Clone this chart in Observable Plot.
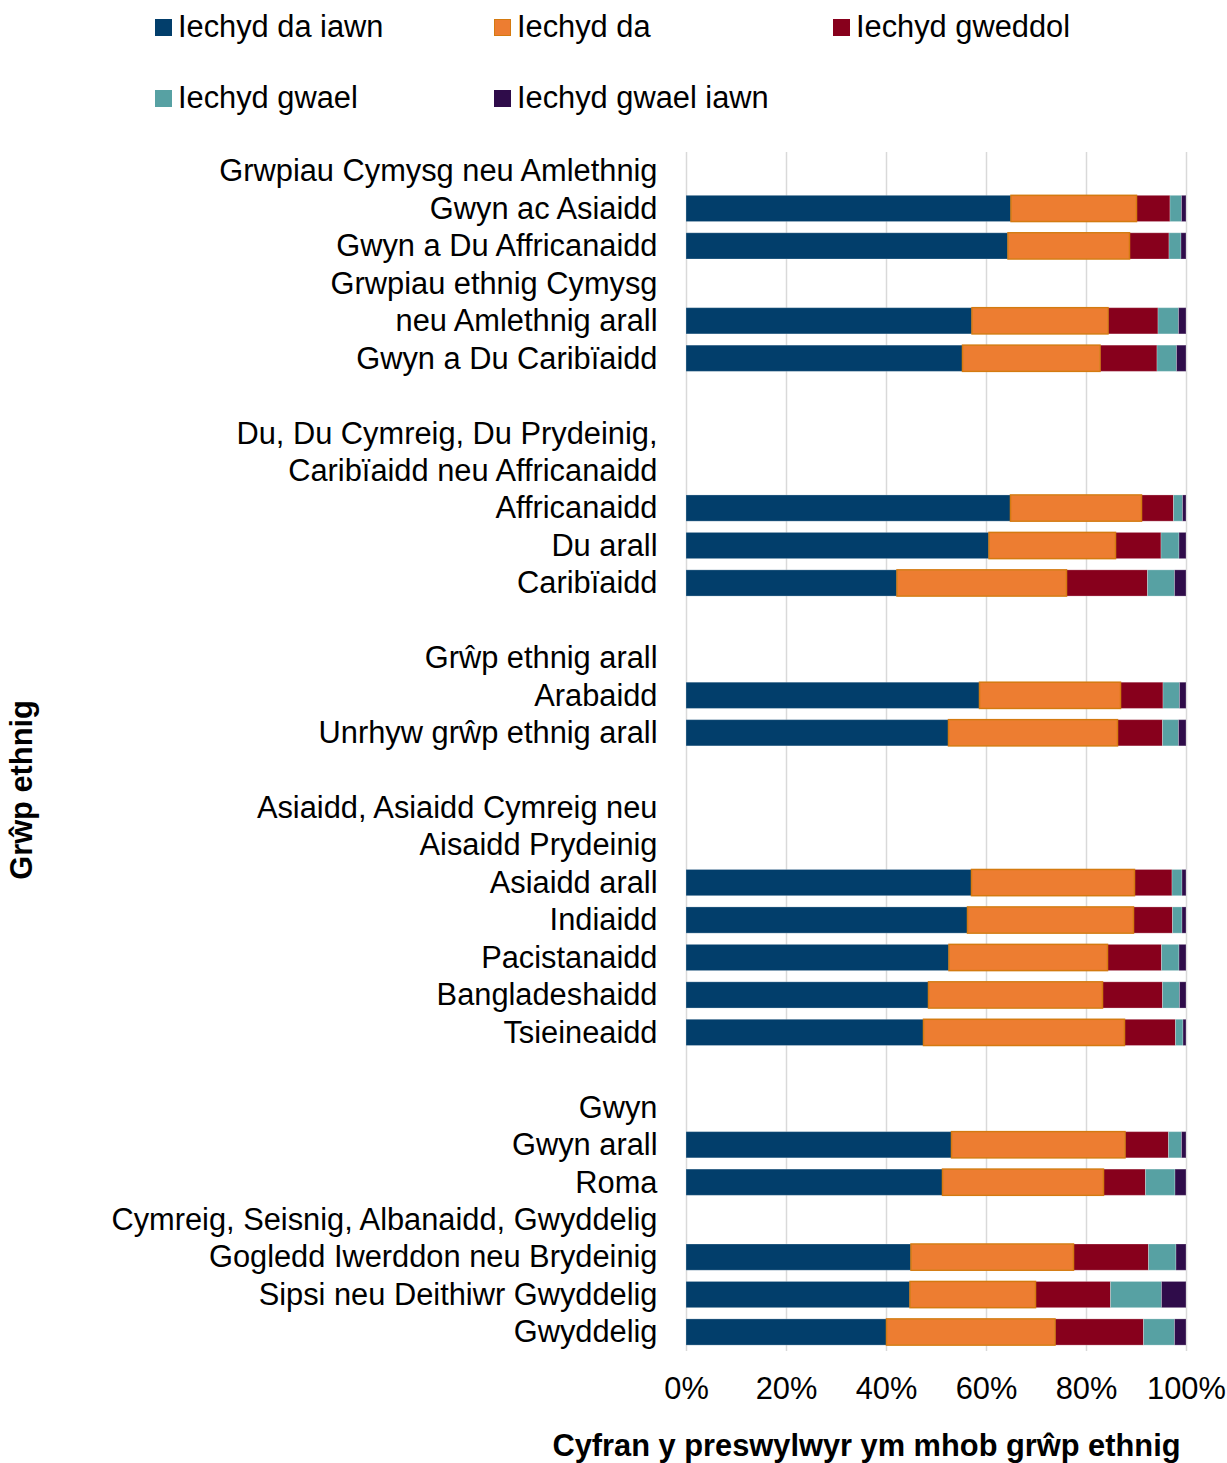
<!DOCTYPE html>
<html>
<head>
<meta charset="utf-8">
<script src="https://cdn.jsdelivr.net/npm/d3@7"></script>
<script src="https://cdn.jsdelivr.net/npm/@observablehq/plot@0.6"></script>
<style>
  html, body { margin: 0; padding: 0; background: #fff; }
  body { font-family: "Liberation Sans", Arial, sans-serif; color: #000; }
  #wrap { width: 1227px; }
  #legend {
    box-sizing: border-box; height: 135px; padding-left: 155px;
    display: grid; grid-template-columns: repeat(3, 339px);
    grid-auto-rows: 54px; row-gap: 17px; align-items: center;
  }
  .item { display: flex; align-items: center; font-size: 30.8px; white-space: nowrap; }
  .sw { width: 17px; height: 17px; margin-right: 6px; box-sizing: border-box; flex: none; }
</style>
</head>
<body>
<div id="wrap">
  <div id="legend"></div>
  <div id="chart"></div>
</div>
<script>
// y-axis text lines (one per row slot; whitespace strings are empty spacer rows)
const yLines = [
  "Grwpiau Cymysg neu Amlethnig",
  "Gwyn ac Asiaidd",
  "Gwyn a Du Affricanaidd",
  "Grwpiau ethnig Cymysg",
  "neu Amlethnig arall",
  "Gwyn a Du Caribïaidd",
  " ",
  "Du, Du Cymreig, Du Prydeinig,",
  "Caribïaidd neu Affricanaidd",
  "Affricanaidd",
  "Du arall",
  "Caribïaidd",
  "  ",
  "Grŵp ethnig arall",
  "Arabaidd",
  "Unrhyw grŵp ethnig arall",
  "   ",
  "Asiaidd, Asiaidd Cymreig neu",
  "Aisaidd Prydeinig",
  "Asiaidd arall",
  "Indiaidd",
  "Pacistanaidd",
  "Bangladeshaidd",
  "Tsieineaidd",
  "    ",
  "Gwyn",
  "Gwyn arall",
  "Roma",
  "Cymreig, Seisnig, Albanaidd, Gwyddelig",
  "Gogledd Iwerddon neu Brydeinig",
  "Sipsi neu Deithiwr Gwyddelig",
  "Gwyddelig"
];

// rows that carry a bar (label line on which the bar sits)
const groups = [
  "Gwyn ac Asiaidd",
  "Gwyn a Du Affricanaidd",
  "neu Amlethnig arall",
  "Gwyn a Du Caribïaidd",
  "Affricanaidd",
  "Du arall",
  "Caribïaidd",
  "Arabaidd",
  "Unrhyw grŵp ethnig arall",
  "Asiaidd arall",
  "Indiaidd",
  "Pacistanaidd",
  "Bangladeshaidd",
  "Tsieineaidd",
  "Gwyn arall",
  "Roma",
  "Gogledd Iwerddon neu Brydeinig",
  "Sipsi neu Deithiwr Gwyddelig",
  "Gwyddelig"
];

const series = ["Iechyd da iawn", "Iechyd da", "Iechyd gweddol", "Iechyd gwael", "Iechyd gwael iawn"];
const colors = ["#023e6b", "#ed7d31", "#87001c", "#57a1a3", "#2f0c4a"];

// percentages per group, in the order of `groups`
const daIawn    = [65.0, 64.4, 57.2, 55.3, 64.9, 60.6, 42.2, 58.7, 52.5, 57.1, 56.3, 52.6, 48.5, 47.5, 53.1, 51.3, 45.0, 44.8, 40.1];
const da        = [25.1, 24.3, 27.2, 27.5, 26.2, 25.3, 33.9, 28.2, 33.8, 32.6, 33.2, 31.7, 34.8, 40.2, 34.7, 32.2, 32.5, 25.1, 33.7];
const gweddol   = [ 6.7,  7.9, 10.0, 11.4,  6.4,  9.1, 16.2,  8.5,  9.0,  7.5,  7.8, 10.8, 12.0, 10.2,  8.7,  8.4, 15.0, 15.0, 17.7];
const gwael     = [ 2.3,  2.4,  4.1,  3.9,  1.8,  3.6,  5.4,  3.3,  3.2,  2.0,  1.9,  3.5,  3.4,  1.5,  2.6,  5.9,  5.5, 10.2,  6.2];
const gwaelIawn = [ 0.9,  1.0,  1.5,  1.9,  0.7,  1.4,  2.3,  1.3,  1.5,  0.8,  0.8,  1.4,  1.3,  0.6,  0.9,  2.2,  2.0,  4.9,  2.3];

const tickValues = [0, 0.2, 0.4, 0.6, 0.8, 1];

const seriesValues = [daIawn, da, gweddol, gwael, gwaelIawn];
const data = [];
groups.forEach((g, i) => {
  series.forEach((s, j) => data.push({group: g, series: s, value: seriesValues[j][i]}));
});

// legend
const legend = document.getElementById("legend");
series.forEach((s, j) => {
  const it = document.createElement("div");
  it.className = "item";
  const sw = document.createElement("span");
  sw.className = "sw";
  sw.style.background = colors[j];
  if (j === 1) sw.style.border = "1px solid #d47a10";
  it.appendChild(sw);
  it.appendChild(document.createTextNode(s));
  legend.appendChild(it);
});

const FS = 30.8;
const font = "Liberation Sans, Arial, sans-serif";

const stackOpts = {x: "value", y: "group", z: "series", order: series, offset: "normalize"};

const chart = Plot.plot({
  width: 1227,
  height: 1328,
  marginLeft: 686,
  marginRight: 41,
  marginTop: 17,
  marginBottom: 112,
  style: {fontFamily: font, fontSize: FS + "px", color: "#000", background: "#fff", overflow: "visible"},
  x: {domain: [0, 1], axis: null},
  y: {domain: yLines, paddingInner: 0.3, paddingOuter: 0.157, round: false, axis: null},
  color: {domain: series, range: colors},
  marks: [
    Plot.gridX(tickValues, {stroke: "#d9d9d9", strokeOpacity: 1, strokeWidth: 1.5}),
    Plot.barX(data, Plot.stackX({...stackOpts, fill: "series", stroke: "#ffffff", strokeOpacity: 0.25, strokeWidth: 1})),
    Plot.barX(data, Plot.stackX({...stackOpts, fill: "none", stroke: "#d47a10", strokeWidth: 1.5,
      strokeOpacity: d => d.series === "Iechyd da" ? 1 : 0})),
    Plot.axisX({ticks: tickValues, tickSize: 0, tickPadding: 26, fontSize: FS, tickFormat: d => Math.round(d * 100) + "%", label: null}),
    Plot.axisY({tickSize: 0, tickPadding: 29, fontSize: FS, label: null}),
    Plot.text(["Cyfran y preswylwyr ym mhob grŵp ethnig"], {frameAnchor: "bottom-right", textAnchor: "end", lineAnchor: "middle", dx: -6, dy: 95, fontWeight: "bold", fontSize: FS}),
    Plot.text(["Grŵp ethnig"], {frameAnchor: "left", textAnchor: "middle", lineAnchor: "middle", rotate: -90, dx: -664, dy: 38, fontWeight: "bold", fontSize: FS})
  ]
});
document.getElementById("chart").appendChild(chart);
</script>
</body>
</html>
